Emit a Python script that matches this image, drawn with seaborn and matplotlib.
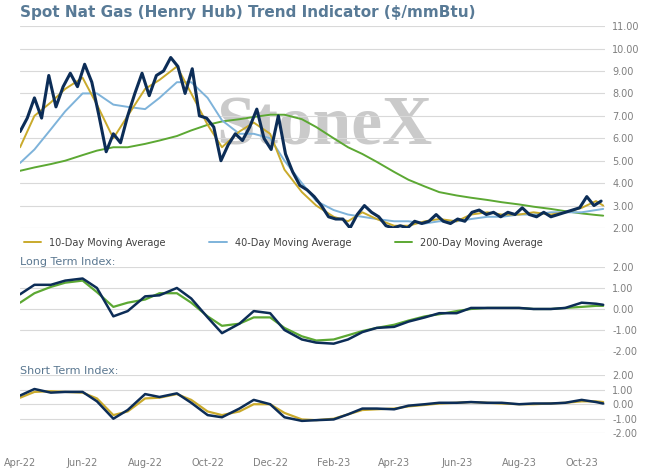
import pandas as pd
import matplotlib.pyplot as plt
import matplotlib.dates as mdates
import seaborn as sns

# weekly spot prices ($/mmBtu), starting 2022-04-01
spot = [6.3, 6.9, 7.8, 6.9, 8.8, 7.4, 8.3, 8.9, 8.3, 9.3, 8.5, 7.0, 5.4, 6.2, 5.8, 7.0,
        8.0, 8.9, 7.9, 8.8, 9.0, 9.6, 9.2, 8.0, 9.1, 7.0, 6.9, 6.5, 5.0, 5.7, 6.2, 5.9,
        6.5, 7.3, 6.0, 5.5, 7.0, 5.3, 4.5, 3.9, 3.7, 3.4, 3.0, 2.5, 2.4, 2.4, 2.0, 2.6,
        3.0, 2.7, 2.5, 2.1, 2.0, 2.1, 2.0, 2.3, 2.2, 2.3, 2.6, 2.3, 2.2, 2.4, 2.3, 2.7,
        2.8, 2.6, 2.7, 2.5, 2.7, 2.6, 2.9, 2.6, 2.5, 2.7, 2.5, 2.6, 2.7, 2.8, 2.9, 3.4,
        3.0, 3.2]

# semi-monthly dates for the smoother series
half_dates = list(pd.date_range("2022-04-01", "2023-10-15", freq="SMS")) + [pd.Timestamp("2023-10-22")]

ma10 = [5.6, 7.0, 7.6, 8.2, 8.7, 7.5, 6.0, 7.0, 8.2, 8.6, 9.2, 8.0, 6.6, 5.6, 6.3, 6.7,
        6.2, 4.6, 3.6, 3.0, 2.5, 2.3, 2.7, 2.4, 2.1, 2.1, 2.3, 2.4, 2.3, 2.6, 2.7, 2.6,
        2.6, 2.7, 2.6, 2.7, 2.9, 3.2, 3.0]
ma40 = [4.9, 5.5, 6.4, 7.2, 8.0, 8.0, 7.5, 7.4, 7.3, 7.8, 8.5, 8.5, 7.8, 6.8, 6.2, 6.2,
        6.0, 5.0, 4.0, 3.2, 2.8, 2.6, 2.5, 2.4, 2.3, 2.3, 2.2, 2.3, 2.3, 2.4, 2.5, 2.5,
        2.6, 2.6, 2.7, 2.7, 2.7, 2.8, 2.85]
ma200 = [4.55, 4.7, 4.85, 5.0, 5.25, 5.45, 5.6, 5.6, 5.75, 5.9, 6.1, 6.35, 6.6, 6.75, 6.85, 6.95,
         7.05, 7.05, 6.85, 6.5, 6.0, 5.6, 5.3, 4.95, 4.5, 4.15, 3.85, 3.6, 3.45, 3.35, 3.25, 3.15,
         3.05, 2.95, 2.85, 2.75, 2.65, 2.58, 2.55]

lt_index = [0.7, 1.15, 1.15, 1.35, 1.45, 1.0, -0.35, -0.1, 0.6, 0.65, 1.0, 0.5, -0.4, -1.15, -0.7, -0.1,
            -0.2, -1.0, -1.45, -1.6, -1.65, -1.45, -1.1, -0.9, -0.85, -0.6, -0.4, -0.2, -0.2, 0.05, 0.05, 0.05,
            0.05, 0.0, 0.0, 0.05, 0.3, 0.25, 0.2]
lt_signal = [0.3, 0.75, 1.05, 1.25, 1.35, 0.8, 0.1, 0.3, 0.45, 0.75, 0.75, 0.3, -0.35, -0.8, -0.7, -0.4,
             -0.4, -0.9, -1.3, -1.5, -1.45, -1.25, -1.05, -0.9, -0.75, -0.55, -0.35, -0.25, -0.1, 0.0, 0.05, 0.05,
             0.05, 0.0, 0.0, 0.05, 0.1, 0.15, 0.15]
st_index = [0.6, 1.05, 0.8, 0.85, 0.85, 0.2, -1.0, -0.4, 0.7, 0.5, 0.75, 0.1, -0.75, -0.9, -0.3, 0.3,
            0.0, -0.9, -1.15, -1.1, -1.05, -0.7, -0.3, -0.3, -0.35, -0.1, 0.0, 0.1, 0.1, 0.15, 0.1, 0.1,
            0.0, 0.05, 0.05, 0.1, 0.3, 0.15, 0.05]
st_signal = [0.45, 0.85, 0.9, 0.85, 0.8, 0.4, -0.75, -0.5, 0.4, 0.45, 0.7, 0.3, -0.5, -0.75, -0.5, 0.0,
             0.0, -0.6, -1.05, -1.1, -1.0, -0.7, -0.4, -0.35, -0.3, -0.15, -0.05, 0.05, 0.1, 0.15, 0.1, 0.05,
             0.0, 0.0, 0.05, 0.1, 0.2, 0.2, 0.15]

spot_dates = pd.date_range("2022-04-01", periods=len(spot), freq="7D")

navy, gold, blue, green = "#0c2d57", "#c9aa2c", "#7eb3da", "#5ca833"
grid_c = "#d9d9d9"
tick_c = "#7f7f7f"
label_c = "#5a7790"

sns.set_style("white")
fig = plt.figure(figsize=(6.48, 4.75), dpi=100)
x0, w = 0.031, 0.903
ax1 = fig.add_axes([x0, 0.52, w, 0.425])
ax2 = fig.add_axes([x0, 0.261, w, 0.177])
ax3 = fig.add_axes([x0, 0.088, w, 0.122])

xmin, xmax = pd.Timestamp("2022-04-01"), pd.Timestamp("2023-10-24")

sns.lineplot(x=half_dates, y=ma200, ax=ax1, color=green, lw=1.4, label="200-Day Moving Average")
sns.lineplot(x=half_dates, y=ma40, ax=ax1, color=blue, lw=1.4, label="40-Day Moving Average")
sns.lineplot(x=half_dates, y=ma10, ax=ax1, color=gold, lw=1.4, label="10-Day Moving Average")
sns.lineplot(x=spot_dates, y=spot, ax=ax1, color=navy, lw=2.2)
ax1.set_ylim(2, 11)
ax1.set_yticks(range(2, 12))
ax1.text(0.52, 0.5, "StoneX", transform=ax1.transAxes, ha="center", va="center",
         fontsize=50, family="Liberation Serif", fontweight="bold", color="#cacaca", zorder=0)

h, l = ax1.get_legend_handles_labels()
order = [2, 1, 0]
ax1.legend([h[i] for i in order], [l[i] for i in order], loc="upper center",
           bbox_to_anchor=(0.45, -0.005), ncol=3, frameon=False, fontsize=7,
           handlelength=1.8, columnspacing=4.5, labelcolor="#404040")

sns.lineplot(x=half_dates, y=lt_signal, ax=ax2, color=green, lw=1.6)
sns.lineplot(x=half_dates, y=lt_index, ax=ax2, color=navy, lw=1.8)
sns.lineplot(x=half_dates, y=st_signal, ax=ax3, color=gold, lw=1.6)
sns.lineplot(x=half_dates, y=st_index, ax=ax3, color=navy, lw=1.8)

for ax in (ax2, ax3):
    ax.set_ylim(-2, 2)
    ax.set_yticks([-2, -1, 0, 1, 2])

for ax in (ax1, ax2, ax3):
    ax.set_xlim(xmin, xmax)
    ax.yaxis.tick_right()
    ax.yaxis.set_major_formatter(plt.FuncFormatter(lambda v, p: f"{v:.2f}"))
    ax.tick_params(axis="y", length=0, labelsize=7, labelcolor=tick_c, pad=5)
    ax.grid(axis="y", color=grid_c, lw=0.8)
    for s in ax.spines.values():
        s.set_visible(False)
    ax.set_xlabel("")
    ax.set_ylabel("")
    ax.xaxis.set_major_locator(mdates.MonthLocator(bymonth=[2, 4, 6, 8, 10, 12]))
    ax.xaxis.set_major_formatter(mdates.DateFormatter("%b-%y"))

ax1.tick_params(axis="x", labelbottom=False, length=0)
ax2.tick_params(axis="x", labelbottom=False, length=0)
ax3.tick_params(axis="x", labelsize=7, labelcolor=tick_c, length=0, pad=18)

fig.text(0.031, 0.965, "Spot Nat Gas (Henry Hub) Trend Indicator ($/mmBtu)",
         fontsize=11, fontweight="bold", color="#587a96")
fig.text(0.031, 0.443, "Long Term Index:", fontsize=8, color=label_c)
fig.text(0.031, 0.213, "Short Term Index:", fontsize=8, color=label_c)

fig.savefig("out.png", dpi=100)
